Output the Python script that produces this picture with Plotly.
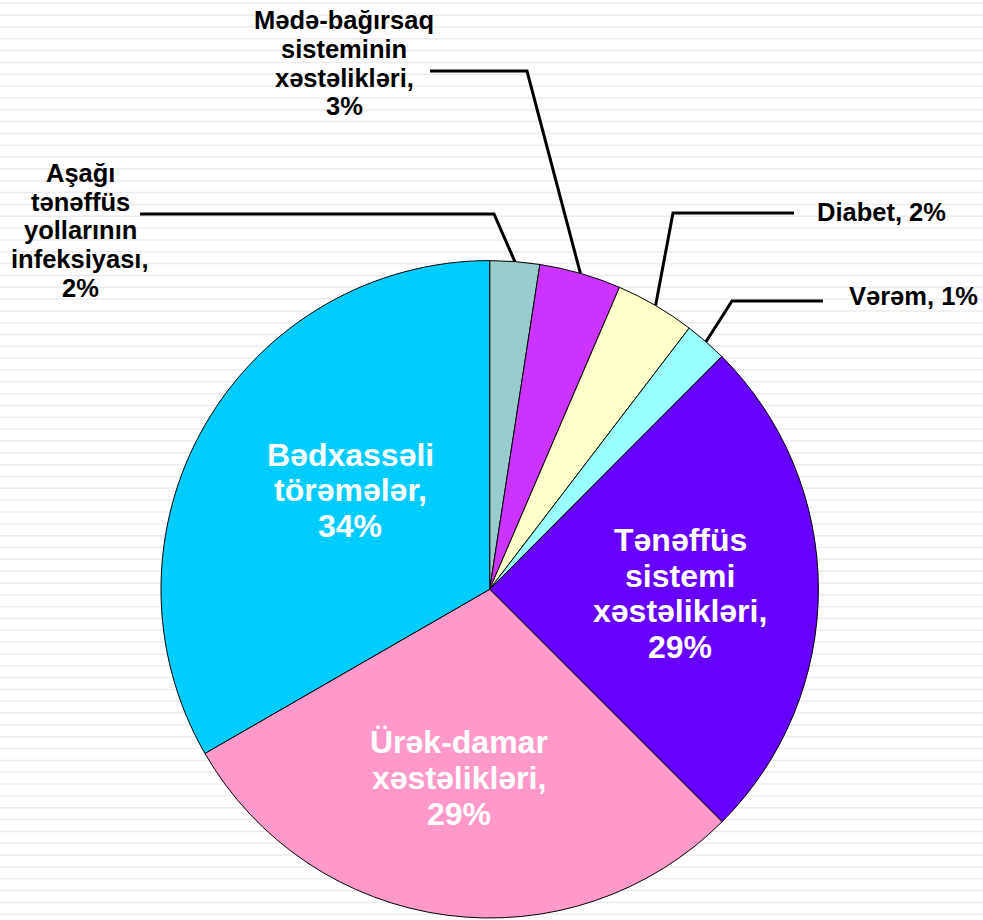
import math
import plotly.graph_objects as go

# ---- data ----
categories = [
    "Aşağı tənəffüs yollarının infeksiyası",
    "Mədə-bağırsaq sisteminin xəstəlikləri",
    "Diabet",
    "Vərəm",
    "Tənəffüs sistemi xəstəlikləri",
    "Ürək-damar xəstəlikləri",
    "Bədxassəli törəmələr",
]
values = [2.44, 4.02, 3.92, 2.10, 25.02, 29.18, 33.32]
pct_labels = ["2%", "3%", "2%", "1%", "29%", "29%", "34%"]
label_lines = [
    ["Aşağı", "tənəffüs", "yollarının", "infeksiyası,"],
    ["Mədə-bağırsaq", "sisteminin", "xəstəlikləri,"],
    ["Diabet,"],
    ["Vərəm,"],
    ["Tənəffüs", "sistemi", "xəstəlikləri,"],
    ["Ürək-damar", "xəstəlikləri,"],
    ["Bədxassəli", "törəmələr,"],
]
colors = ["#99CCCC", "#CC33FF", "#FFFFCC", "#99FFFF", "#6600FF", "#FF99CC", "#00CCFF"]

# ---- layout constants (pixels) ----
W, H = 983, 920
CX, CY, R = 489.7, 589.3, 328.7
FONT = "Arial, 'Liberation Sans', sans-serif"

fig = go.Figure()

fig.add_trace(go.Pie(
    labels=categories,
    values=values,
    sort=False,
    direction="clockwise",
    rotation=0,
    marker=dict(colors=colors, line=dict(color="#000000", width=1)),
    textinfo="none",
    hoverinfo="label+percent",
    showlegend=False,
    domain=dict(x=[(CX - R) / W, (CX + R) / W],
                y=[(H - CY - R) / H, (H - CY + R) / H]),
))

# invisible pixel-space axes for decorations
fig.add_trace(go.Scatter(x=[0, W], y=[0, H], mode="markers",
                         marker=dict(opacity=0), hoverinfo="skip", showlegend=False))

shapes = []
# striped background
period, y0 = 11.83, 3.3
k = 0
while y0 + k * period < H:
    yy = y0 + k * period
    shapes.append(dict(type="line", xref="x", yref="y", x0=0, x1=W, y0=yy, y1=yy,
                       line=dict(color="#ececec", width=1.5), layer="below"))
    k += 1

# slice mid-angle anchors derived from data
total = sum(values)
anchors = []
cum = 0
for v in values:
    th = 2 * math.pi * (cum + v / 2) / total
    anchors.append((CX + R * math.sin(th), CY - R * math.cos(th)))
    cum += v

# leader lines: (start x, elbow x, y) for the small slices
leaders = {0: (140, 494, 214), 1: (430, 527, 71), 2: (794, 673, 213), 3: (823, 732, 301)}
for i, (xs, xe, yl) in leaders.items():
    ax, ay = anchors[i]
    shapes.append(dict(type="path", xref="x", yref="y",
                       path=f"M {xs},{yl} L {xe},{yl} L {ax:.1f},{ay:.1f}",
                       line=dict(color="#000000", width=3), layer="above"))

annotations = []
# label placement: (x, xanchor, first baseline, line spacing, size, color)
placements = [
    (80, "center", 181.7, 28.75, 25.5, "#000000"),
    (344, "center", 29.3, 28.6, 25.5, "#000000"),
    (815, "left", 220.7, 0, 25.5, "#000000"),
    (847, "left", 305.0, 0, 25.5, "#000000"),
    (680, "center", 551.0, 35.8, 32, "#FFFFFF"),
    (459, "center", 753.3, 35.9, 32, "#FFFFFF"),
    (350, "center", 465.7, 35.5, 32, "#FFFFFF"),
]
for i, (x, xa, b0, sp, size, col) in enumerate(placements):
    lines = list(label_lines[i])
    if xa == "left":
        lines[-1] = lines[-1] + " " + pct_labels[i]
    else:
        lines = lines + [pct_labels[i]]
    for j, t in enumerate(lines):
        base = b0 + j * sp
        annotations.append(dict(
            x=x, y=base - 0.35 * size, xref="x", yref="y",
            text=t, showarrow=False, xanchor=xa, yanchor="middle",
            font=dict(family=FONT, size=size, color=col, weight="bold"),
        ))

fig.update_layout(
    width=W, height=H,
    margin=dict(l=0, r=0, t=0, b=0),
    paper_bgcolor="#FFFFFF",
    plot_bgcolor="rgba(0,0,0,0)",
    xaxis=dict(range=[0, W], visible=False, fixedrange=True, domain=[0, 1]),
    yaxis=dict(range=[H, 0], visible=False, fixedrange=True, domain=[0, 1]),
    shapes=shapes,
    annotations=annotations,
)

fig.write_html("out.html",
               config={"displayModeBar": False},
               post_script="document.body.style.margin='0';document.body.style.overflow='hidden';")
